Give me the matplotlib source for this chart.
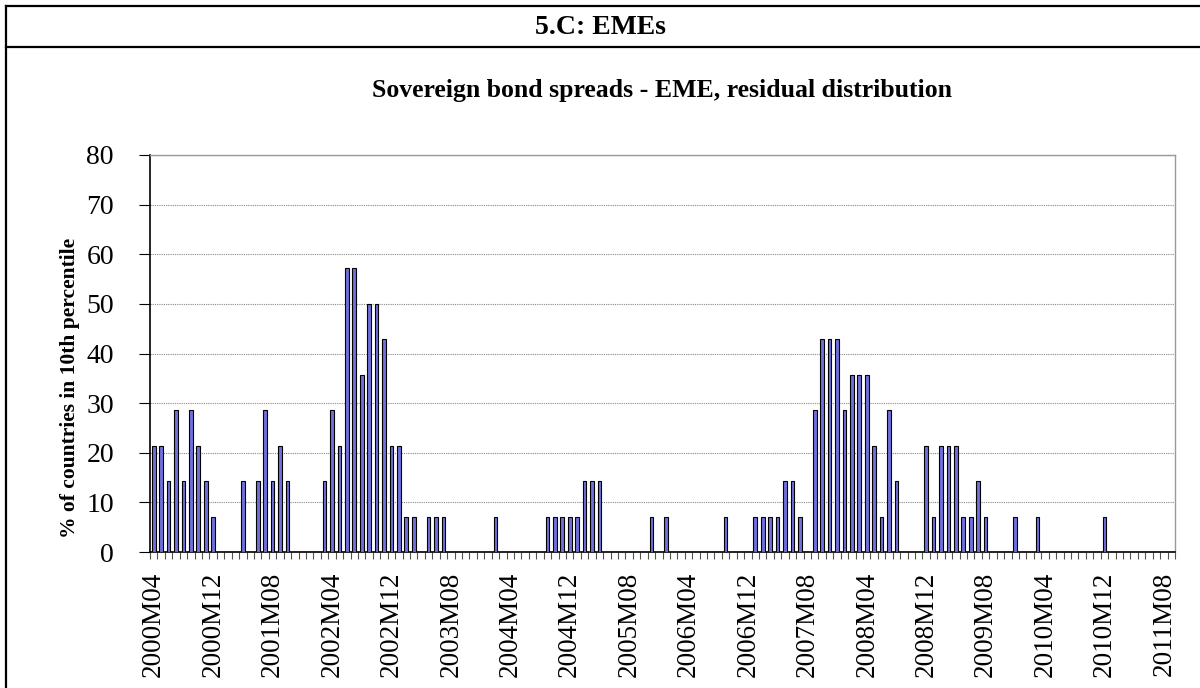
import numpy as np
import matplotlib
matplotlib.use("Agg")
import matplotlib.pyplot as plt
from matplotlib.lines import Line2D

plt.rcParams['font.family'] = ['Liberation Serif', 'DejaVu Serif']

# ---- data ----
start_year, start_month, n_months = 2000, 4, 138
categories = [f"{start_year + (start_month - 1 + i) // 12}M{(start_month - 1 + i) % 12 + 1:02d}"
              for i in range(n_months)]
values = [
    21.43, 21.43, 14.29, 28.57, 14.29, 28.57, 21.43, 14.29, 7.14, 0,
    0, 0, 14.29, 0, 14.29, 28.57, 14.29, 21.43, 14.29, 0,
    0, 0, 0, 14.29, 28.57, 21.43, 57.14, 57.14, 35.71, 50,
    50, 42.86, 21.43, 21.43, 7.14, 7.14, 0, 7.14, 7.14, 7.14,
    0, 0, 0, 0, 0, 0, 7.14, 0, 0, 0,
    0, 0, 0, 7.14, 7.14, 7.14, 7.14, 7.14, 14.29, 14.29,
    14.29, 0, 0, 0, 0, 0, 0, 7.14, 0, 7.14,
    0, 0, 0, 0, 0, 0, 0, 7.14, 0, 0,
    0, 7.14, 7.14, 7.14, 7.14, 14.29, 14.29, 7.14, 0, 28.57,
    42.86, 42.86, 42.86, 28.57, 35.71, 35.71, 35.71, 21.43, 7.14, 28.57,
    14.29, 0, 0, 0, 21.43, 7.14, 21.43, 21.43, 21.43, 7.14,
    7.14, 14.29, 7.14, 0, 0, 0, 7.14, 0, 0, 7.14,
    0, 0, 0, 0, 0, 0, 0, 0, 7.14, 0,
    0, 0, 0, 0, 0, 0, 0, 0,
]
yticks = [0, 10, 20, 30, 40, 50, 60, 70, 80]
label_step = 8

header = "5.C: EMEs"
title = "Sovereign bond spreads - EME, residual distribution"
ylabel = "% of countries in 10th percentile"

# ---- figure ----
W, H = 1200, 688
fig = plt.figure(figsize=(W / 100, H / 100), dpi=100)
fig.patch.set_facecolor('white')

left, right, top, bottom = 150, 1175, 155, 552
ax = fig.add_axes([left / W, 1 - bottom / H, (right - left) / W, (bottom - top) / H])

x = np.arange(len(values))
ax.bar(x, values, width=0.5, color='#7070DD', edgecolor='black', linewidth=0.8, zorder=3)

ax.set_xlim(-0.5, len(values) - 0.5)
ax.set_ylim(0, 80)

# x ticks: labels at every 8th category, tick marks between categories
lab_pos = x[::label_step]
ax.set_xticks(lab_pos)
ax.set_xticklabels([categories[i] for i in lab_pos], rotation=90, fontsize=19.5)
ax.tick_params(axis='x', which='major', length=0, pad=14)
ax.set_xticks(np.arange(-0.5, len(values)), minor=True)
ax.tick_params(axis='x', which='minor', length=5, width=0.8, color='#555555', direction='out')

ax.set_yticks(yticks)
ax.set_yticklabels([str(v) for v in yticks], fontsize=20)
ax.tick_params(axis='y', length=8, width=0.8, direction='out', pad=18)

ax.yaxis.grid(True, linestyle=(0, (1, 1)), color='#888888', linewidth=0.8, zorder=0)
ax.set_axisbelow(True)

ax.spines['left'].set_color('black')
ax.spines['left'].set_linewidth(1.2)
ax.spines['bottom'].set_color('black')
ax.spines['bottom'].set_linewidth(1.2)
ax.spines['top'].set_color('#999999')
ax.spines['top'].set_linewidth(1.0)
ax.spines['right'].set_color('#999999')
ax.spines['right'].set_linewidth(1.0)

# y-axis title placed like the reference (slightly below the plot centre)
fig.text(70 / W, 1 - 388 / H, ylabel, rotation=90, ha='center', va='center',
         fontsize=15.5, fontweight='bold')

# titles
fig.text(((left + right) / 2) / W, 1 - 90 / H, title, ha='center', va='center',
         fontsize=18.5, fontweight='bold')
fig.text(0.5, 1 - 27 / H, header, ha='center', va='center', fontsize=20, fontweight='bold')

# frame lines
for (x0, y0, x1, y1) in [(6, 6, W, 6), (6, 47, W, 47), (6, 6, 6, H)]:
    fig.add_artist(Line2D([x0 / W, x1 / W], [1 - y0 / H, 1 - y1 / H],
                          transform=fig.transFigure, color='black', linewidth=1.6))

fig.savefig("out.png", dpi=100)
